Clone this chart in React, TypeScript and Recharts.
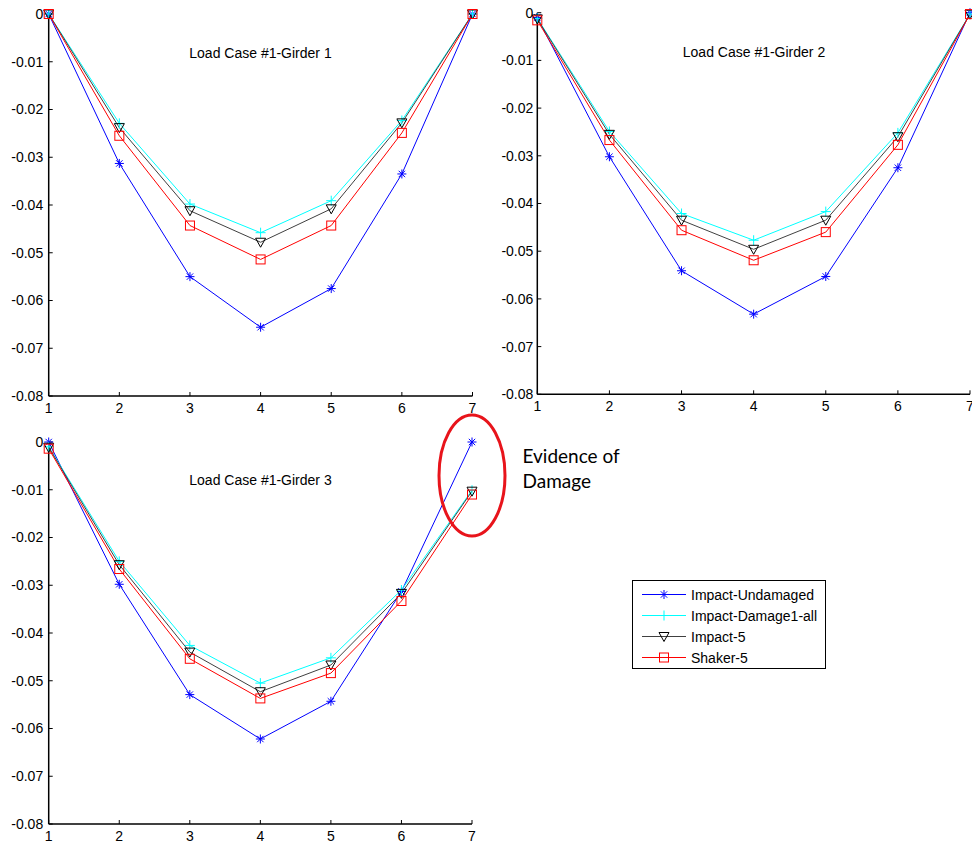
import React from "react";
import { LineChart, Line, XAxis, YAxis } from "recharts";

// node positions along the girder
const positions = [1, 2, 3, 4, 5, 6, 7];
const yTicks = [0, -0.01, -0.02, -0.03, -0.04, -0.05, -0.06, -0.07, -0.08];
const seriesNames = ["Impact-Undamaged", "Impact-Damage1-all", "Impact-5", "Shaker-5"];
const panelTitles = ["Load Case #1-Girder 1", "Load Case #1-Girder 2", "Load Case #1-Girder 3"];

// girder 1
const g1Undamaged = [0, -0.0313, -0.055, -0.0656, -0.0575, -0.0335, 0];
const g1Damage1 = [0, -0.0229, -0.0398, -0.0458, -0.0391, -0.0223, 0];
const g1Impact5 = [0, -0.0238, -0.0412, -0.0478, -0.0408, -0.0228, 0];
const g1Shaker5 = [0, -0.0255, -0.0443, -0.0514, -0.0443, -0.0249, 0];

// girder 2
const g2Undamaged = [-0.001, -0.0302, -0.0541, -0.0632, -0.0553, -0.0325, 0];
const g2Damage1 = [-0.0012, -0.0249, -0.0421, -0.0477, -0.0417, -0.0252, -0.0003];
const g2Impact5 = [-0.0013, -0.0255, -0.0435, -0.0496, -0.0435, -0.026, -0.0003];
const g2Shaker5 = [-0.0016, -0.0267, -0.0456, -0.0519, -0.046, -0.0277, -0.0003];

// girder 3
const g3Undamaged = [0, -0.0298, -0.0529, -0.0622, -0.0543, -0.0313, 0];
const g3Damage1 = [-0.001, -0.025, -0.0426, -0.0505, -0.0452, -0.031, -0.0101];
const g3Impact5 = [-0.0011, -0.0257, -0.044, -0.0523, -0.0467, -0.0317, -0.0103];
const g3Shaker5 = [-0.0014, -0.0266, -0.0454, -0.0537, -0.0484, -0.0333, -0.011];

const FONT = "'Liberation Sans', Arial, sans-serif";

const series = [
  { key: "und", line: "#0000ff", mark: "#0000ff", marker: "star" },
  { key: "dmg", line: "#00ffff", mark: "#00ffff", marker: "plus" },
  { key: "imp", line: "#404040", mark: "#000000", marker: "tri" },
  { key: "shk", line: "#ff0000", mark: "#ff0000", marker: "square" },
];

const buildRows = (und: number[], dmg: number[], imp: number[], shk: number[]) =>
  positions.map((x, i) => ({ x, und: und[i], dmg: dmg[i], imp: imp[i], shk: shk[i] }));

const drawMarker = (type: string, cx: number, cy: number, color: string, key?: any) => {
  if (cx == null || cy == null) return <g key={key} />;
  if (type === "star") {
    const r = 4.5;
    const d = 3.2;
    return (
      <g key={key} stroke={color} strokeWidth={1} fill="none">
        <line x1={cx - r} y1={cy} x2={cx + r} y2={cy} />
        <line x1={cx} y1={cy - r} x2={cx} y2={cy + r} />
        <line x1={cx - d} y1={cy - d} x2={cx + d} y2={cy + d} />
        <line x1={cx - d} y1={cy + d} x2={cx + d} y2={cy - d} />
      </g>
    );
  }
  if (type === "plus") {
    const r = 5;
    return (
      <g key={key} stroke={color} strokeWidth={1} fill="none">
        <line x1={cx - r} y1={cy} x2={cx + r} y2={cy} />
        <line x1={cx} y1={cy - r} x2={cx} y2={cy + r} />
      </g>
    );
  }
  if (type === "tri") {
    return (
      <path
        key={key}
        d={`M${cx - 5},${cy - 4} L${cx + 5},${cy - 4} L${cx},${cy + 5} Z`}
        stroke={color}
        strokeWidth={1}
        fill="none"
      />
    );
  }
  return (
    <rect key={key} x={cx - 4.5} y={cy - 4.5} width={9} height={9} stroke={color} strokeWidth={1} fill="none" />
  );
};

interface PanelProps {
  rows: any[];
  left: number;
  top: number;
  width: number;
  height: number;
  marginTop: number;
  marginRight: number;
  yWidth: number;
  yGap: number;
}

const Panel: React.FC<PanelProps> = ({ rows, left, top, width, height, marginTop, marginRight, yWidth, yGap }) => {
  const axisLine = { stroke: "#000", strokeWidth: 1.5 };
  const tickStyle = { fontSize: 14, fill: "#000", fontFamily: FONT };
  return (
    <div style={{ position: "absolute", left, top }}>
      <LineChart width={width} height={height} data={rows} margin={{ top: marginTop, right: marginRight, left: 0, bottom: 0 }}>
        <XAxis
          xAxisId="b"
          dataKey="x"
          type="number"
          domain={[1, 7]}
          ticks={positions}
          height={24}
          axisLine={axisLine}
          tickLine={{ stroke: "#000" }}
          tickSize={-4}
          tickMargin={11}
          tick={tickStyle}
          interval={0}
        />
        <XAxis
          xAxisId="t"
          orientation="top"
          dataKey="x"
          type="number"
          domain={[1, 7]}
          ticks={positions}
          height={0}
          axisLine={axisLine}
          tickLine={{ stroke: "#000" }}
          tickSize={-4}
          tickFormatter={() => ""}
          interval={0}
        />
        <YAxis
          yAxisId="l"
          type="number"
          domain={[-0.08, 0]}
          ticks={yTicks}
          width={yWidth}
          axisLine={axisLine}
          tickLine={{ stroke: "#000" }}
          tickSize={-4}
          tickMargin={4 + yGap}
          tick={tickStyle}
          tickFormatter={(v: number) => String(v)}
          interval={0}
        />
        <YAxis
          yAxisId="r"
          orientation="right"
          type="number"
          domain={[-0.08, 0]}
          ticks={yTicks}
          width={0}
          axisLine={axisLine}
          tickLine={{ stroke: "#000" }}
          tickSize={-4}
          tickFormatter={() => ""}
          interval={0}
        />
        {series.map((s) => (
          <Line
            key={s.key}
            xAxisId="b"
            yAxisId="l"
            type="linear"
            dataKey={s.key}
            stroke={s.line}
            strokeWidth={1}
            isAnimationActive={false}
            dot={(p: any) => drawMarker(s.marker, p.cx, p.cy, s.mark, `${s.key}-${p.index}`)}
            activeDot={false}
          />
        ))}
      </LineChart>
    </div>
  );
};

export default function App() {
  const rows1 = buildRows(g1Undamaged, g1Damage1, g1Impact5, g1Shaker5);
  const rows2 = buildRows(g2Undamaged, g2Damage1, g2Impact5, g2Shaker5);
  const rows3 = buildRows(g3Undamaged, g3Damage1, g3Impact5, g3Shaker5);
  const legendRows = [594.5, 615.5, 636.5, 657.5];

  return (
    <div style={{ position: "absolute", left: 0, top: 0, width: 972, height: 844, background: "#fff", overflow: "hidden" }}>
      <Panel rows={rows1} left={0} top={0} width={480} height={420} marginTop={14} marginRight={7.5} yWidth={48.7} yGap={5.5} />
      <Panel rows={rows2} left={480} top={0} width={492} height={418.3} marginTop={12.7} marginRight={2} yWidth={57.3} yGap={4} />
      <Panel rows={rows3} left={0} top={427.7} width={480} height={420} marginTop={14} marginRight={8} yWidth={48.7} yGap={5.5} />

      <svg width={972} height={844} style={{ position: "absolute", left: 0, top: 0, pointerEvents: "none" }}>
        <text x={260.5} y={58} textAnchor="middle" fontSize={14} fontFamily={FONT} fill="#000">
          {panelTitles[0]}
        </text>
        <text x={754} y={56.5} textAnchor="middle" fontSize={14} fontFamily={FONT} fill="#000">
          {panelTitles[1]}
        </text>
        <text x={260.5} y={485} textAnchor="middle" fontSize={14} fontFamily={FONT} fill="#000">
          {panelTitles[2]}
        </text>

        <ellipse cx={472} cy={475.5} rx={33} ry={60.5} fill="none" stroke="#e8141b" strokeWidth={3} />
        <text x={522.5} y={463.3} fontSize={19} fontFamily="Lato, 'Open Sans', sans-serif" fill="#000">
          Evidence of
        </text>
        <text x={522.5} y={488.3} fontSize={19} fontFamily="Lato, 'Open Sans', sans-serif" fill="#000">
          Damage
        </text>

        <rect x={632.5} y={580.5} width={193} height={88} fill="#fff" stroke="#000" strokeWidth={1} />
        {series.map((s, i) => (
          <g key={s.key}>
            <line x1={642} y1={legendRows[i]} x2={686} y2={legendRows[i]} stroke={s.line} strokeWidth={1} />
            {drawMarker(s.marker, 664, legendRows[i], s.mark)}
            <text x={691} y={legendRows[i] + 5} fontSize={14} fontFamily={FONT} fill="#000">
              {seriesNames[i]}
            </text>
          </g>
        ))}
      </svg>
    </div>
  );
}
